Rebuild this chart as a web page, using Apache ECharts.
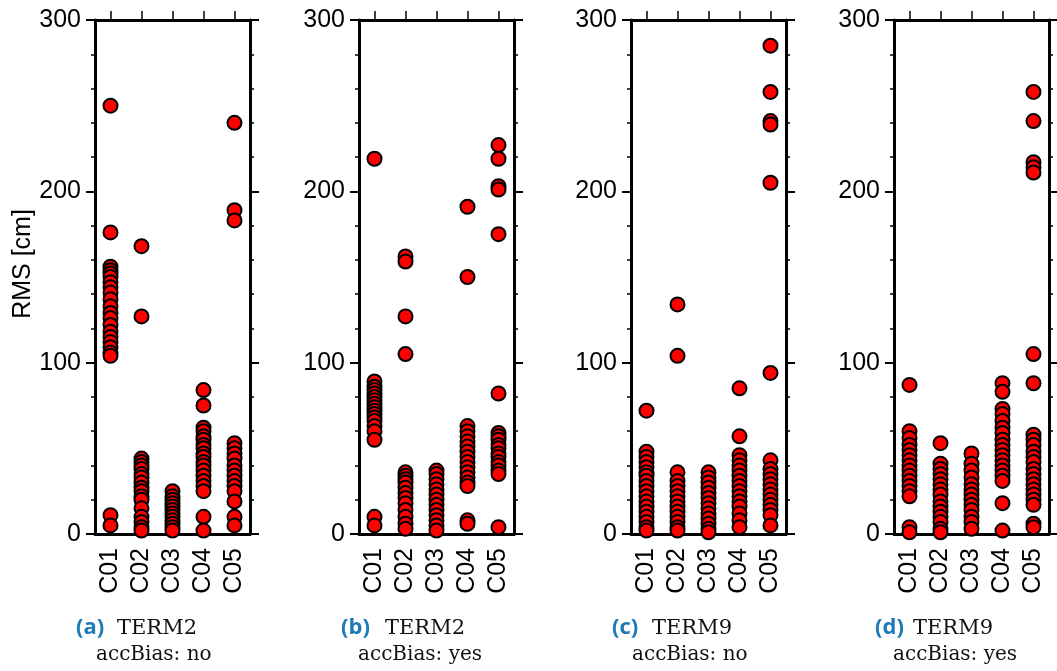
<!DOCTYPE html>
<html>
<head>
<meta charset="utf-8">
<script src="https://cdn.jsdelivr.net/npm/echarts@6/dist/echarts.min.js"></script>
<style>
  html, body { margin: 0; padding: 0; background: #fff; }
  #main { width: 1057px; height: 671px; }
</style>
</head>
<body>
<div id="main"></div>
<script>
// categories and y ticks
var cats = ['C01', 'C02', 'C03', 'C04', 'C05'];
var yMin = 0, yMax = 300, yStep = 100;

// (a) TERM2, accBias: no  -- one list per category
var rmsA = [
    [250, 176, 156, 154, 152, 150, 147, 144, 141, 137, 133, 129, 126, 122, 118, 115, 112, 109, 106, 104, 11, 5],
    [168, 127, 44, 42, 40, 38, 35, 33, 30, 27, 25, 22, 20, 15, 10, 7, 4, 2],
    [25, 22, 20, 18, 16, 14, 12, 10, 8, 6, 4, 2],
    [84, 75, 62, 60, 57, 55, 52, 50, 47, 45, 42, 40, 37, 34, 31, 28, 25, 10, 2],
    [240, 189, 183, 53, 50, 47, 44, 40, 37, 34, 31, 28, 25, 19, 10, 5]
];
// (b) TERM2, accBias: yes
var rmsB = [
    [219, 89, 86, 84, 82, 80, 78, 76, 74, 72, 70, 68, 66, 63, 60, 55, 10, 5],
    [162, 159, 127, 105, 36, 34, 32, 30, 27, 24, 21, 18, 14, 10, 6, 3],
    [37, 35, 32, 29, 26, 23, 20, 17, 14, 11, 8, 5, 2],
    [191, 150, 63, 60, 57, 54, 51, 48, 45, 42, 39, 36, 33, 30, 28, 8, 6],
    [227, 219, 203, 201, 175, 82, 59, 57, 55, 52, 50, 47, 45, 42, 40, 37, 35, 4]
];
// (c) TERM9, accBias: no
var rmsC = [
    [72, 48, 45, 42, 39, 36, 34, 31, 28, 25, 22, 19, 16, 13, 10, 7, 4, 2],
    [134, 104, 36, 31, 28, 25, 22, 19, 16, 13, 10, 7, 4, 2],
    [36, 33, 30, 27, 24, 21, 18, 15, 12, 9, 6, 3, 1],
    [85, 57, 46, 43, 40, 37, 34, 31, 28, 25, 22, 19, 16, 12, 8, 4],
    [285, 258, 241, 239, 205, 94, 43, 38, 35, 32, 29, 26, 23, 20, 17, 14, 11, 5]
];
// (d) TERM9, accBias: yes
var rmsD = [
    [87, 60, 56, 52, 49, 46, 43, 40, 37, 34, 31, 28, 25, 22, 4, 1],
    [53, 41, 38, 35, 32, 29, 26, 23, 19, 16, 13, 10, 7, 3, 1],
    [47, 41, 37, 33, 29, 26, 23, 20, 17, 14, 10, 7, 3],
    [88, 83, 73, 70, 66, 62, 59, 55, 52, 49, 46, 43, 40, 37, 34, 31, 18, 2],
    [258, 241, 217, 214, 211, 105, 88, 58, 55, 52, 48, 45, 42, 38, 35, 32, 29, 26, 23, 20, 17, 6, 4]
];

var panels = [rmsA, rmsB, rmsC, rmsD];
var captionLabels = ['(a)', '(b)', '(c)', '(d)'];
var captionTerms = ['TERM2', 'TERM2', 'TERM9', 'TERM9'];
var captionBias = ['accBias: no', 'accBias: yes', 'accBias: no', 'accBias: yes'];

// layout of the four plot boxes
var gridLefts = [95, 359, 631, 894];
var gridWidth = 155;
var capX = [[76, 117, 96], [341, 385, 358], [612, 652, 632], [875, 913, 893]];

var axisFont = 'Liberation Sans, Arial, sans-serif';
var chart = echarts.init(document.getElementById('main'));

var grid = [], xAxis = [], yAxis = [], series = [], graphic = [];

for (var i = 0; i < panels.length; i++) {
    grid.push({left: gridLefts[i], top: 20, width: gridWidth, height: 514});

    // bottom category axis with labels
    xAxis.push({
        type: 'category', gridIndex: i, data: cats, position: 'bottom',
        axisLine: {onZero: false, lineStyle: {color: '#000', width: 3}},
        axisTick: {alignWithLabel: true, interval: 0, length: 9, lineStyle: {color: '#000', width: 1.5}},
        axisLabel: {interval: 0, rotate: 90, margin: 14, color: '#000', fontSize: 25, fontFamily: axisFont},
        splitLine: {show: false}
    });
    // top frame axis, ticks only (min/max set, no series on it)
    xAxis.push({
        type: 'category', gridIndex: i, data: cats, position: 'top', min: 0, max: cats.length - 1,
        axisLine: {show: true, onZero: false, lineStyle: {color: '#000', width: 3}},
        axisTick: {show: true, alignWithLabel: true, interval: 0, length: 9, lineStyle: {color: '#000', width: 1.5}},
        axisLabel: {show: false},
        splitLine: {show: false}
    });
    // left value axis
    yAxis.push({
        type: 'value', gridIndex: i, min: yMin, max: yMax, interval: yStep, position: 'left',
        axisLine: {show: true, onZero: false, lineStyle: {color: '#000', width: 3}},
        axisTick: {show: true, length: 9, lineStyle: {color: '#000', width: 2}},
        minorTick: {show: true, splitNumber: 5, length: 4, lineStyle: {color: '#000', width: 1.5}},
        axisLabel: {margin: 14, color: '#000', fontSize: 25, fontFamily: axisFont},
        splitLine: {show: false}
    });
    // right frame axis, ticks only
    yAxis.push({
        type: 'value', gridIndex: i, min: yMin, max: yMax, interval: yStep, position: 'right',
        axisLine: {show: true, onZero: false, lineStyle: {color: '#000', width: 3}},
        axisTick: {show: true, length: 9, lineStyle: {color: '#000', width: 2}},
        minorTick: {show: true, splitNumber: 5, length: 4, lineStyle: {color: '#000', width: 1.5}},
        axisLabel: {show: false},
        splitLine: {show: false}
    });

    var pts = [];
    panels[i].forEach(function (vals, c) {
        vals.forEach(function (v) { pts.push([c, v]); });
    });
    series.push({
        type: 'scatter', xAxisIndex: i * 2, yAxisIndex: i * 2,
        symbol: 'circle', symbolSize: 14,
        itemStyle: {color: '#ff0000', borderColor: '#000', borderWidth: 2, opacity: 1},
        data: pts
    });

    // sub captions
    graphic.push({
        type: 'text', left: capX[i][0], top: 617,
        style: {text: captionLabels[i], fill: '#1d7ab8', font: 'bold 22px "Open Sans", "DejaVu Sans", sans-serif'}
    });
    graphic.push({
        type: 'text', left: capX[i][1], top: 618,
        style: {text: captionTerms[i], fill: '#111', font: '21px "DejaVu Serif", serif'}
    });
    graphic.push({
        type: 'text', left: capX[i][2], top: 645,
        style: {text: captionBias[i], fill: '#111', font: '20px "DejaVu Serif", serif'}
    });
}

// y axis title, first panel only
graphic.push({
    type: 'text', x: 23, y: 264, rotation: Math.PI / 2,
    style: {text: 'RMS [cm]', fill: '#000', font: '25px Liberation Sans, Arial, sans-serif',
        align: 'center', verticalAlign: 'middle'}
});

chart.setOption({
    animation: false,
    backgroundColor: '#fff',
    grid: grid,
    xAxis: xAxis,
    yAxis: yAxis,
    series: series,
    graphic: graphic
});
</script>
</body>
</html>
